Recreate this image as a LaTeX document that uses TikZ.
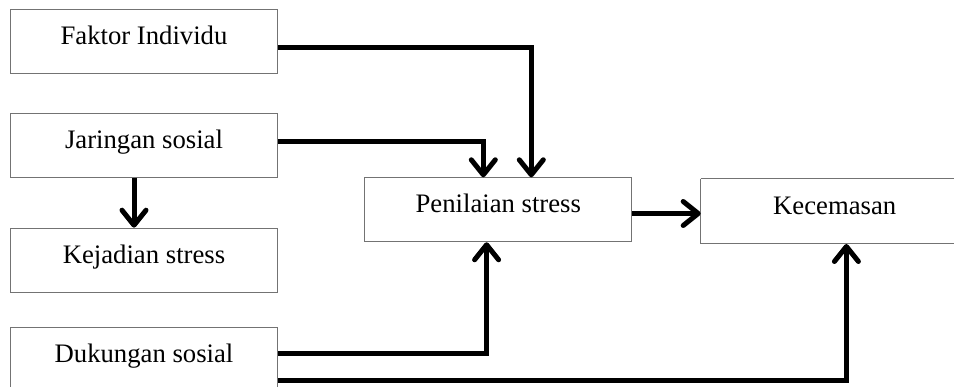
\documentclass[tikz,border=0pt]{standalone}
\usepackage{fontspec}
\setmainfont{Liberation Serif}
\usetikzlibrary{arrows.meta}
\begin{document}
\begin{tikzpicture}[x=1pt,y=-1pt,
  box/.style={draw=black!55, line width=1pt, fill=white, anchor=north west,
    minimum width=267pt, inner sep=0pt, text height=35pt, text depth=29pt,
    font=\fontsize{26.7}{30}\selectfont},
  edge/.style={draw=black!55, line width=1pt},
  link/.style={line width=5pt, draw=black,
    -{Straight Barb[length=15pt,width=24pt,round]}}]
\useasboundingbox (0,0) rectangle (954,387);
\node[box] (fi)  at (10,9.3)    {Faktor Individu};
\node[box] (js)  at (10,112.7)  {Jaringan sosial};
\node[box] (ks)  at (10,227.7)  {Kejadian stress};
% this box runs on past the lower margin
\node[box] (ds)  at (10,327.3)  {Dukungan sosial};
\node[box] (pen) at (364.3,177.3) {Penilaian stress};
% the last box is open at the right margin: only three sides are drawn
\node[box, draw=none] (kec) at (700.7,179) {Kecemasan};
\draw[edge] (kec.north west) -- (954,179) (kec.north west) -- (kec.south west)
  -- (kec.south west -| 954,0);
% inputs to stress appraisal
\draw[link] ([yshift=-5.4pt]fi.east) -| ([xshift=33pt]pen.north);
\draw[link] ([yshift=3.7pt]js.east) -| ([xshift=-15pt]pen.north);
\draw[link] ([xshift=-10pt]js.south) -- ([xshift=-10pt]ks.north);
\draw[link] ([yshift=6pt]ds.east) -| ([xshift=-11.7pt]pen.south);
% outputs to anxiety
\draw[link] ([yshift=-3.7pt]pen.east) -- ([yshift=-3.7pt]pen.east -| kec.west);
\draw[link] ([yshift=-20.7pt]ds.east) -| ([xshift=11.7pt]kec.south);
\end{tikzpicture}
\end{document}
